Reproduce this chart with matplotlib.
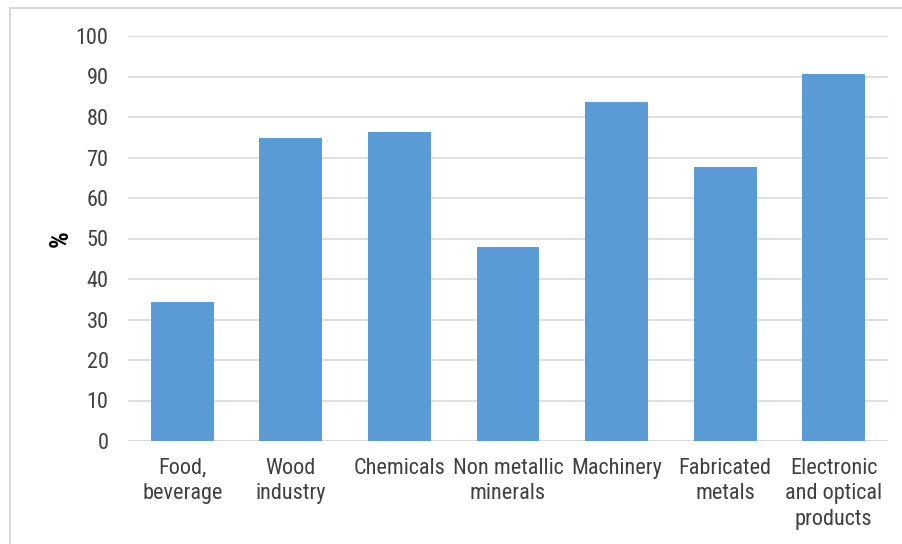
import matplotlib
matplotlib.use("Agg")
import matplotlib.pyplot as plt
from matplotlib import font_manager
from matplotlib.lines import Line2D

categories = ["Food,\nbeverage", "Wood\nindustry", "Chemicals", "Non metallic\nminerals",
              "Machinery", "Fabricated\nmetals", "Electronic\nand optical\nproducts"]
values = [34.2, 74.7, 76.2, 47.8, 83.6, 67.6, 90.7]
yticks = [0, 10, 20, 30, 40, 50, 60, 70, 80, 90, 100]

names = {f.name for f in font_manager.fontManager.ttflist}
fam = "Liberation Sans"
for cand in ["Liberation Sans Narrow", "Roboto Condensed", "Arial Narrow", "Open Sans Condensed", "Lato"]:
    if cand in names:
        fam = cand
        break
plt.rcParams["font.family"] = [fam, "DejaVu Sans"]

text_color = "#404040"
grid_color = "#d9d9d9"
bar_color = "#5b9bd5"

fig = plt.figure(figsize=(9.03, 5.44), dpi=100)
ax = fig.add_axes([128/903, 1-441/544, 760/903, 405/544])

x = list(range(len(categories)))
ax.bar(x, values, width=0.58, color=bar_color, zorder=3)
ax.set_xlim(-0.5, len(categories)-0.5)
ax.set_ylim(0, 100)
ax.set_yticks(yticks)
ax.yaxis.grid(True, color=grid_color, linewidth=1.2, zorder=0)
for s in ax.spines.values():
    s.set_visible(False)
ax.axhline(0, color=grid_color, linewidth=1.2, zorder=2)
ax.tick_params(axis="both", length=0, labelsize=16, labelcolor=text_color)
ax.tick_params(axis="y", pad=14)
ax.tick_params(axis="x", pad=12)
ax.set_xticks(x)
ax.set_xticklabels(categories, linespacing=1.3)
ax.set_ylabel("%", fontsize=19, fontweight="bold", color="black", labelpad=2)

# outer frame (top and left visible)
fig.add_artist(Line2D([10/903, 1.0], [1-8/544, 1-8/544], color="#d9d9d9", linewidth=1.5, transform=fig.transFigure))
fig.add_artist(Line2D([10/903, 10/903], [0, 1-8/544], color="#d9d9d9", linewidth=1.5, transform=fig.transFigure))

fig.savefig("out.png", dpi=100)
